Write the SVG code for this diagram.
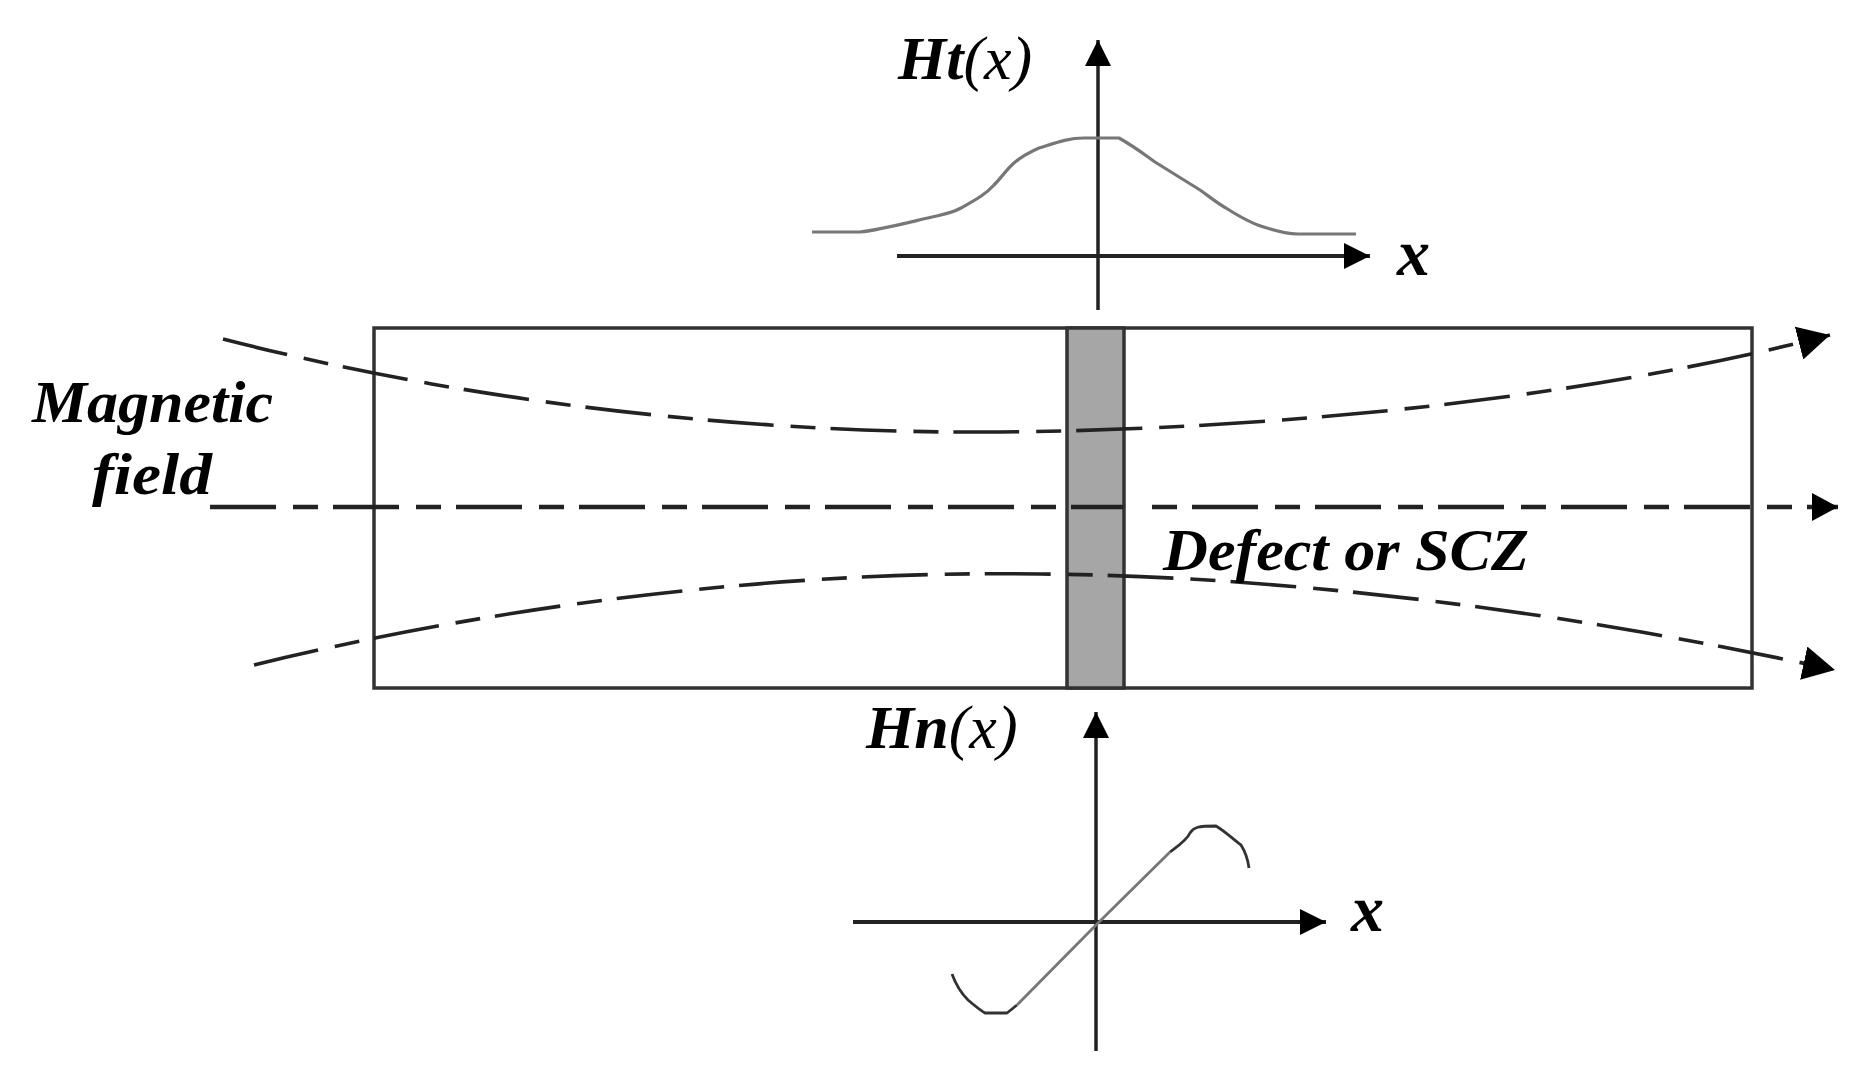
<svg xmlns="http://www.w3.org/2000/svg" width="1873" height="1076" viewBox="0 0 1873 1076">
  <style>
    text { font-family: "Liberation Serif", "Times New Roman", serif; font-size: 60px; fill: #000; }
    .fn { font-size: 62px; }
    .var { font-size: 66px; }
    .bi { font-weight: bold; font-style: italic; }
    .i { font-style: italic; font-weight: normal; }
    .box { fill: none; stroke: #333; stroke-width: 3.5; }
    .bar { fill: #a6a6a6; stroke: #333; stroke-width: 3.5; }
    .field { fill: none; stroke: #222; stroke-width: 3.6; stroke-dasharray: 66 17 25 15; }
    .mid { stroke-width: 4.5; }
    .axis { fill: none; stroke: #222; stroke-width: 3.5; }
    .thick { stroke-width: 4; }
    .htc { fill: none; stroke: #777; stroke-width: 3.2; stroke-linejoin: round; }
    .hnc { fill: none; stroke: #333; stroke-width: 2.8; stroke-linejoin: round; }
    .hnl { fill: none; stroke: #777; stroke-width: 2.8; }
  </style>
  <defs>
    <filter id="soft" x="0" y="0" width="1" height="1" filterUnits="objectBoundingBox"><feGaussianBlur stdDeviation="0.7"/></filter>
    <marker id="ax" markerUnits="userSpaceOnUse" markerWidth="27" markerHeight="26" refX="26" refY="13" orient="auto">
      <path d="M0 0L26 13L0 26Z" fill="#000"/>
    </marker>
    <marker id="arrow-mid" markerUnits="userSpaceOnUse" markerWidth="27" markerHeight="28" refX="26" refY="14" orient="auto">
      <path d="M0 0L26 14L0 28Z" fill="#000"/>
    </marker>
    <marker id="big" markerUnits="userSpaceOnUse" markerWidth="33" markerHeight="34" refX="32" refY="17" orient="auto">
      <path d="M0 0L32 17L0 34Z" fill="#000"/>
    </marker>
  </defs>
  <g filter="url(#soft)">
  <rect width="1873" height="1076" fill="#fff"/>

  <g id="specimen">
    <rect class="box" x="374" y="328" width="1378" height="360"/>
  </g>
  <g id="defect">
    <rect class="bar" x="1067" y="328" width="57" height="360"/>
  </g>

  <g id="connectors">
    <path class="field" marker-end="url(#big)" d="M223 339C480 405 760 434 1000 432C1240 430 1560 405 1830 335"/>
    <path class="field mid" d="M210 507H1123"/>
    <path class="field mid" stroke-dashoffset="83" marker-end="url(#arrow-mid)" d="M1152 507H1838"/>
    <path class="field" marker-end="url(#big)" d="M254 665C500 605 780 570 1040 574C1290 576 1570 612 1835 670"/>
    <path class="axis" marker-end="url(#ax)" d="M1098 310V40"/>
    <path class="axis thick" marker-end="url(#ax)" d="M897 256H1370"/>
    <path class="axis" marker-end="url(#ax)" d="M1096 1051V712"/>
    <path class="axis thick" marker-end="url(#ax)" d="M853 922H1326"/>
  </g>

  <g id="ht-curve">
    <path class="htc" d="M812 232H860C880 230 910 222 932 217C945 214 952 213 961 208C975 200 985 195 994 185C1002 177 1006 170 1014 163C1022 156 1030 152 1039 148C1055 143 1068 138 1084 138H1119C1135 147 1145 155 1155 162L1200 190C1210 197 1217 203 1226 208C1240 217 1255 225 1267 228C1280 232 1290 234 1298 234H1356"/>
  </g>
  <g id="hn-curve">
    <path class="hnc" d="M952 974C956 985 960 992 968 1000C975 1006 980 1010 985 1013H1007L1017 1005"/>
    <path class="hnl" d="M1017 1005L1096 925L1170 852"/>
    <path class="hnc" d="M1170 852C1178 846 1187 840 1190 833C1194 827 1198 826 1216 826C1226 832 1234 840 1241 845C1246 853 1248 860 1249 868"/>
  </g>

  <g id="label-ht"><text class="fn" x="898" y="79"><tspan class="bi">Ht</tspan><tspan class="i">(x)</tspan></text></g>
  <g id="label-ht-x"><text class="bi var" x="1397" y="275">x</text></g>
  <g id="label-hn"><text class="fn" x="866" y="748"><tspan class="bi">Hn</tspan><tspan class="i">(x)</tspan></text></g>
  <g id="label-hn-x"><text class="bi var" x="1351" y="931">x</text></g>
  <g id="label-field">
    <text class="bi" x="32" y="422" textLength="241" lengthAdjust="spacingAndGlyphs">Magnetic</text>
    <text class="bi" x="92" y="494" textLength="120" lengthAdjust="spacingAndGlyphs">field</text>
  </g>
  <g id="label-defect"><text class="bi" x="1163" y="570" textLength="366" lengthAdjust="spacingAndGlyphs">Defect or SCZ</text></g>
  </g>
</svg>
